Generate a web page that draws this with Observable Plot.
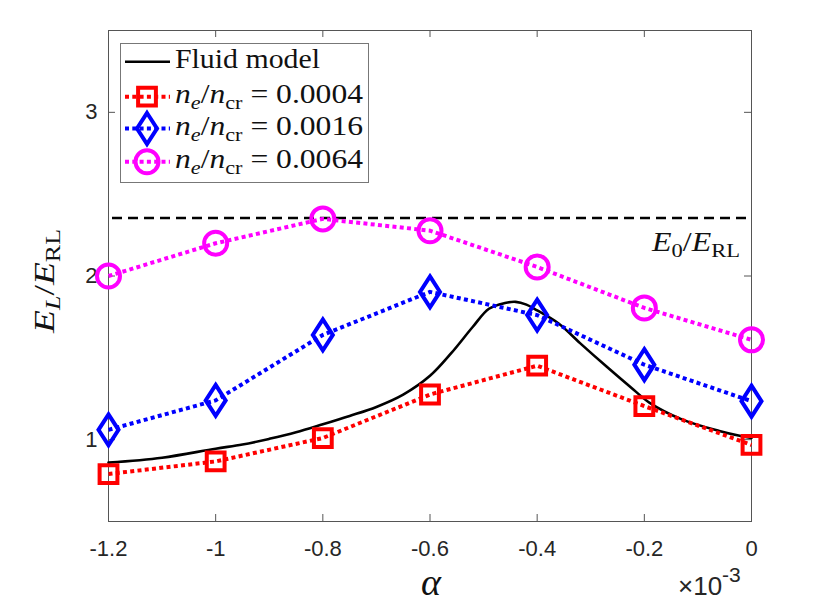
<!DOCTYPE html>
<html><head><meta charset="utf-8">
<script src="https://cdn.jsdelivr.net/npm/d3@7"></script>
<script src="https://cdn.jsdelivr.net/npm/@observablehq/plot@0.6"></script>
<style>
body{margin:0;background:#fff;}
#wrap{position:relative;width:830px;height:607px;}
</style></head><body><div id="wrap"></div>
<script>
// ---- data (alpha in units of 1e-3) ----
const alpha = [-1.2, -1.0, -0.8, -0.6, -0.4, -0.2, 0];
const ne0004 = [0.79, 0.867, 1.01, 1.276, 1.452, 1.205, 0.968];
const ne0016 = [1.06, 1.24, 1.64, 1.903, 1.761, 1.458, 1.235];
const ne0064 = [2.0, 2.2, 2.349, 2.277, 2.055, 1.805, 1.61];
const fluidAlpha = [-1.2,-1.1,-1.0,-0.95,-0.9,-0.85,-0.8,-0.75,-0.7,-0.65,-0.6,-0.56,-0.52,-0.49,-0.46,-0.44,-0.42,-0.4,-0.36,-0.32,-0.27,-0.22,-0.19,-0.13,-0.06,-0.02,0];
const fluidE = [0.86,0.89,0.945,0.97,1.005,1.045,1.094,1.145,1.2,1.275,1.39,1.53,1.69,1.80,1.835,1.842,1.825,1.79,1.71,1.59,1.445,1.305,1.225,1.124,1.053,1.022,1.01];
const E0ratio = 2.354;
const xTicks = [-1.2, -1.0, -0.8, -0.6, -0.4, -0.2, 0];
const yTicks = [1, 2, 3];
const densities = ["0.0004", "0.0016", "0.0064"];
const colors = ["#ff0000", "#0000ff", "#ff00ff"];

// ---- layout ----
const W = 830, H = 607, mL = 108, mR = 79, mT = 30, mB = 86;
const innerW = W - mL - mR, innerH = H - mT - mB;
const axisColor = "#555";
const serif = "'Liberation Serif','DejaVu Serif',serif";
const dotted = "4,3.3";

// marker symbols
const squareSym = {draw(c) { const h = 8.9; c.moveTo(-h,-h); c.lineTo(h,-h); c.lineTo(h,h); c.lineTo(-h,h); c.closePath(); }};
const diamondSym = {draw(c) { c.moveTo(0,-15.5); c.lineTo(10,0); c.lineTo(0,15.5); c.lineTo(-10,0); c.closePath(); }};
const circleSym = {draw(c) { const r = 11.5; c.moveTo(r,0); c.arc(0,0,r,0,2*Math.PI); c.closePath(); }};
const symbols = [squareSym, diamondSym, circleSym];

const series = [ne0004, ne0016, ne0064].map((ys, k) => alpha.map((a, i) => ({a, v: ys[i], k})));
const fluid = fluidAlpha.map((a, i) => ({a, v: fluidE[i]}));

const seriesMarks = [];
series.forEach((s, k) => {
  seriesMarks.push(Plot.line(s, {x: "a", y: "v", stroke: colors[k], strokeWidth: 4, strokeDasharray: dotted, strokeLinecap: "butt"}));
});
series.forEach((s, k) => {
  seriesMarks.push(Plot.dot(s, {x: "a", y: "v", symbol: symbols[k], stroke: colors[k], strokeWidth: 4, fill: "none", strokeLinejoin: "miter"}));
});

const chart = Plot.plot({
  width: W, height: H,
  marginLeft: mL, marginRight: mR, marginTop: mT, marginBottom: mB,
  style: {fontFamily: "'Liberation Sans',Arial,sans-serif", fontSize: "22px", color: "#262626", background: "white", overflow: "visible"},
  x: {domain: [-1.2, 0]},
  y: {domain: [0.5, 3.5]},
  marks: [
    Plot.axisX({ticks: xTicks, tickSize: 0, tickPadding: 19, tickFormat: d => String(d), label: null, fontSize: 22, fill: "#262626"}),
    Plot.axisY({ticks: yTicks, tickSize: 0, tickPadding: 11, tickFormat: d => String(d), label: null, fontSize: 22, fill: "#262626"}),
    Plot.tickX(xTicks, {x: d => d, insetTop: innerH - 7, stroke: axisColor}),
    Plot.tickX(xTicks, {x: d => d, insetBottom: innerH - 7, stroke: axisColor}),
    Plot.tickY(yTicks, {y: d => d, insetRight: innerW - 7, stroke: axisColor}),
    Plot.tickY(yTicks, {y: d => d, insetLeft: innerW - 7, stroke: axisColor}),
    Plot.frame({stroke: axisColor}),
    Plot.ruleY([E0ratio], {stroke: "black", strokeWidth: 2.5, strokeDasharray: "10,6", insetLeft: 4}),
    Plot.line(fluid, {x: "a", y: "v", stroke: "black", strokeWidth: 2.6, curve: "catmull-rom"}),
    ...seriesMarks
  ]
});
document.getElementById("wrap").appendChild(chart);

// ---- math-style text helper ----
const svg = d3.select(chart);
function mathText(g, parts, attrs) {
  const t = g.append("text").attr("font-family", serif).attr("text-anchor", "start").attr("lengthAdjust", "spacingAndGlyphs");
  for (const [k, v] of Object.entries(attrs)) t.attr(k, v);
  let shifted = 0;
  for (const p of parts) {
    const ts = t.append("tspan").text(p.t);
    if (p.i) ts.attr("font-style", "italic");
    const want = p.sub ? 6 : 0;
    if (want !== shifted) { ts.attr("dy", want - shifted); shifted = want; }
    if (p.sub) ts.attr("font-size", p.fs || 19);
  }
  return t;
}
const ov = svg.append("g").attr("text-anchor", "start");

// y label
mathText(ov.append("g").attr("transform", "translate(54,281) rotate(-90)"),
  [{t:"E", i:true},{t:"L", i:true, sub:true, fs:20},{t:"/"},{t:"E", i:true},{t:"RL", sub:true, fs:20}],
  {x: 0, y: 0, "text-anchor": "middle", "font-size": 29, textLength: 104, fill: "#111"});

// x label
ov.append("text").attr("x", 431).attr("y", 595).attr("text-anchor", "middle")
  .attr("font-family", serif).attr("font-style", "italic").attr("font-size", 38).attr("fill", "#111").text("α");

// exponent
const ex = ov.append("text").attr("x", 678).attr("y", 595).attr("text-anchor", "start")
  .attr("font-family", "'Liberation Sans',Arial,sans-serif").attr("font-size", 26).attr("fill", "#262626");
ex.append("tspan").text("×10");
ex.append("tspan").attr("dy", -13).attr("font-size", 21).text("-3");

// E0/ERL label
mathText(ov, [{t:"E", i:true},{t:"0", sub:true},{t:"/"},{t:"E", i:true},{t:"RL", sub:true}],
  {x: 740, y: 251, "text-anchor": "end", "font-size": 27, textLength: 88, fill: "#111"});

// ---- legend ----
const lg = ov.append("g");
lg.append("rect").attr("x", 120.5).attr("y", 43.5).attr("width", 248).attr("height", 139)
  .attr("fill", "white").attr("stroke", "#777").attr("stroke-width", 1);
lg.append("line").attr("x1", 125).attr("x2", 170).attr("y1", 61.7).attr("y2", 61.7).attr("stroke", "black").attr("stroke-width", 2.6);
lg.append("text").attr("x", 175).attr("y", 68.3).attr("text-anchor", "start").attr("font-family", serif).attr("font-size", 27)
  .attr("textLength", 145).attr("lengthAdjust", "spacingAndGlyphs").attr("fill", "#111").text("Fluid model");
const rowY = [96.7, 128.5, 161.7];
densities.forEach((d, k) => {
  const y = rowY[k];
  lg.append("line").attr("x1", 125).attr("x2", 170).attr("y1", y).attr("y2", y)
    .attr("stroke", colors[k]).attr("stroke-width", 4).attr("stroke-dasharray", dotted);
  lg.append("path").attr("d", d3.symbol(symbols[k])()).attr("transform", `translate(147,${y})`)
    .attr("fill", "none").attr("stroke", colors[k]).attr("stroke-width", 4);
  mathText(lg, [{t:"n", i:true},{t:"e", i:true, sub:true},{t:"/"},{t:"n", i:true},{t:"cr", sub:true},{t:" = " + d}],
    {x: 175, y: y + 6.6, "font-size": 27, textLength: 188, fill: "#111"});
});
</script></body></html>
